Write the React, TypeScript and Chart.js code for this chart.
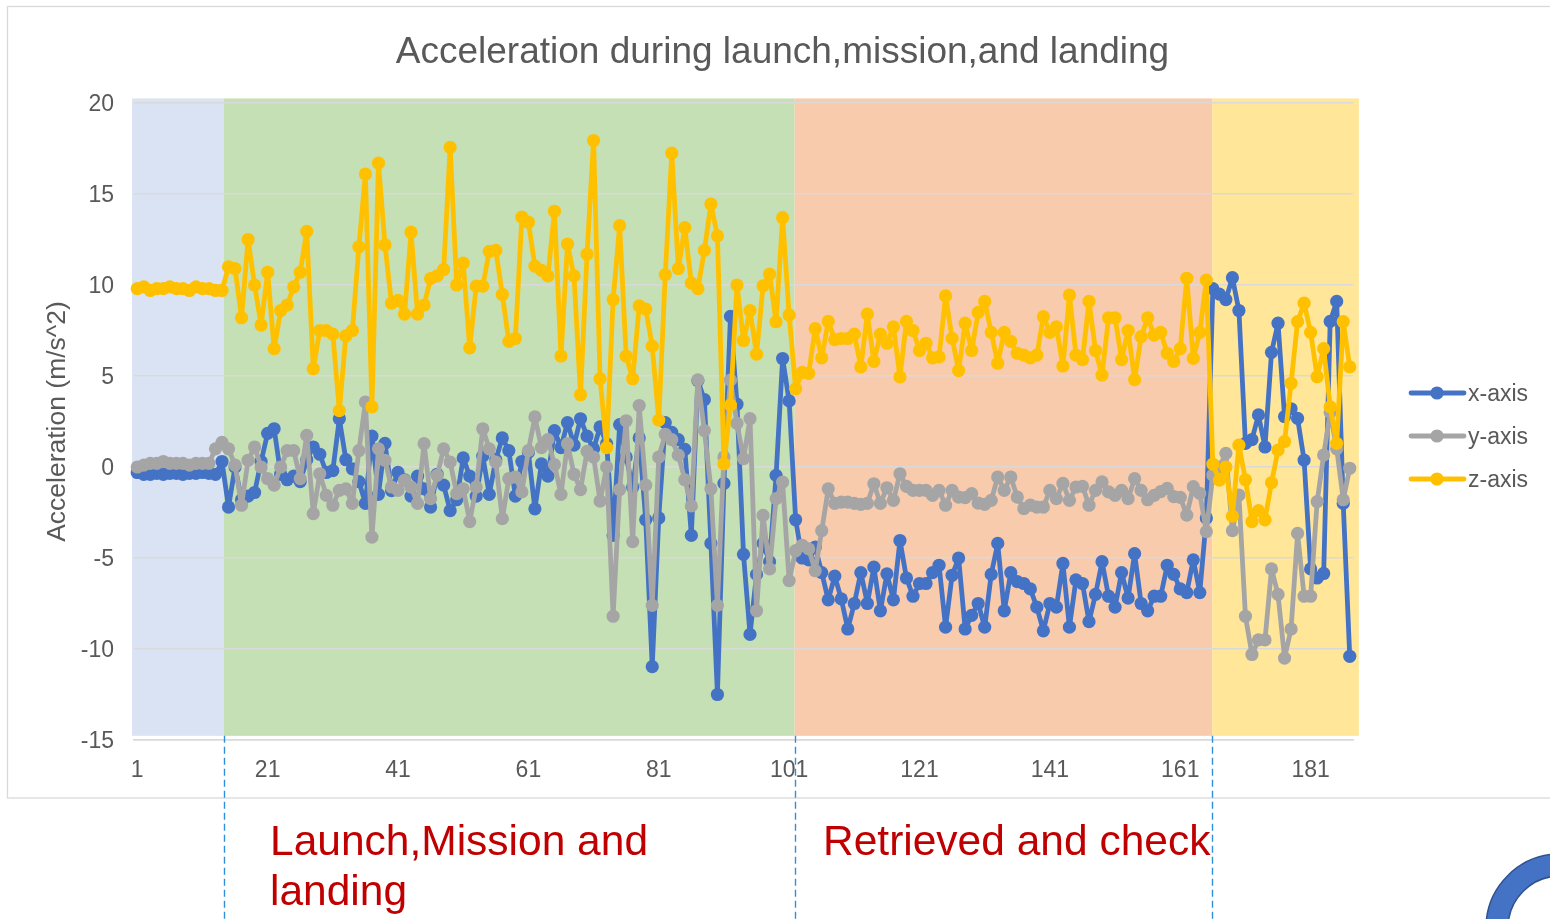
import React, { useEffect, useRef } from 'react';
import { Chart, registerables } from 'chart.js';

Chart.register(...registerables);

// ---------- data ----------
const sampleLabels: string[] = Array.from({ length: 187 }, (_, i) => String(i + 1));
const shownTickLabels = ['1', '21', '41', '61', '81', '101', '121', '141', '161', '181'];

const xAxisValues = [
  -0.3, -0.4, -0.4, -0.35, -0.4, -0.35, -0.35, -0.4, -0.35, -0.35, -0.3, -0.35, -0.4, 0.3,
  -2.2, 0.0, -1.8, -1.6, -1.4, 0.3, 1.85, 2.1, -0.4, -0.7, -0.5, -0.8, 0.4, 1.1, 0.7, -0.3,
  -0.2, 2.65, 0.4, -0.1, -0.8, -2.0, 1.7, -1.5, 1.3, -1.3, -0.3, -0.7, -1.6, -0.5, -1.2, -2.2, -0.4, -1.0, -2.4, -1.8, 0.5, -0.5, -1.6, 0.6, -1.5, 0.4, 1.6, 0.9, -1.6, 0.3, 0.8,
  -2.3, 0.17, -0.5, 2.0, 1.07, 2.44, 1.2, 2.65, 1.7, 1.0, 2.2, 1.28, -3.76, 2.33, 0.55, -1.1, 1.6, -2.9, -10.97, -2.8, 2.44, 1.9, 1.5, 0.97, -3.76, 4.75, 3.7, -4.2, -12.5, -0.9, 8.28,
  3.45, -4.8, -9.2, -5.9, -4.2, -5.2, -0.46, 5.96, 3.63, -2.9, -5.0, -5.1, -4.4, -5.8, -7.3, -6.0, -7.25, -8.9, -7.5, -5.8, -7.5, -5.5, -7.9, -5.87, -7.3, -4.04, -6.1,
  -7.1, -6.4, -6.4, -5.8, -5.4, -8.8, -5.95, -5.0, -8.9, -8.15, -7.5, -8.8, -5.9, -4.2, -7.9, -5.8, -6.3, -6.4, -6.7, -7.7, -9.0, -7.5, -7.7, -5.3, -8.8, -6.2, -6.4, -8.5, -7.0, -5.2, -7.1, -7.7, -5.8, -7.2, -4.76, -7.5, -7.9, -7.1,
  -7.1, -5.4, -5.9, -6.7, -6.9, -5.1, -6.9, -2.8,
  9.8, 9.5, 9.2, 10.4, 8.6, 1.3, 1.5, 2.86, 1.1, 6.3, 7.9, 2.77, 3.2, 2.67, 0.38, -5.6, -6.1, -5.85, 8.0, 9.1, -2.0, -10.4,
];

const yAxisValues = [
  0.0, 0.1, 0.2, 0.2, 0.3, 0.2, 0.2, 0.2, 0.1, 0.2, 0.2, 0.2, 1.0, 1.35,
  1.0, 0.1, -2.1, 0.37, 1.1, 0.0, -0.64, -1.0, 0.0, 0.9, 0.9, -0.64, 1.74, -2.56, -0.37, -1.56,
  -2.1, -1.28, -1.2, -2.0, 0.9, 3.57, -3.85, 1.0, 0.37, -1.1, -1.28, -0.73, -1.1, -2.0, 1.28, -1.74, -0.46, 1.0, 0.27, -1.46, -1.2, -3.0, -1.1, 2.1, 1.0, 0.27, -2.84, -0.64, -0.55, -1.37, 0.9, 2.75,
  1.07, 1.5, 0.13, -1.5, 1.28, -0.4, -1.24, 0.86, 0.55, -1.87, 0.0, -8.2, -1.24, 2.54, -4.1, 3.38, -1.0, -7.6, 0.55, 1.8, 1.5, 0.65, -0.7, -2.14, 4.79, 2.0, -1.2, -7.6, 0.55, 4.77, 2.4, 0.46,
  2.66, -7.9, -2.66, -5.6, -1.74, -0.83, -6.24, -4.6, -4.3, -4.5, -5.7, -3.5, -1.2, -2.0, -1.93, -1.93, -2.0, -2.05, -2.0, -0.92, -2.0, -1.14, -1.83, -0.37, -1.06,
  -1.28, -1.28, -1.28, -1.56, -1.28, -2.1, -1.28, -1.65, -1.68, -1.46, -1.98, -2.05, -1.83, -0.55, -1.28, -0.55, -1.65, -2.29, -2.1, -2.2, -2.2, -1.28, -1.74, -0.9, -1.83, -1.1, -1.06, -2.1, -1.28, -0.82, -1.37, -1.56, -1.28, -1.74, -0.64, -1.28, -1.8, -1.56,
  -1.35, -1.17, -1.63, -1.67, -2.64, -1.08, -1.45, -3.55,
  -0.44, 0.0, 0.75, -3.5, -1.54, -8.2, -10.3, -9.5, -9.5, -5.6, -7.0, -10.5, -8.9, -3.65, -7.1, -7.1, -1.9, 0.66, 3.0, 1.0, -1.8, -0.07,
];

const zAxisValues = [
  9.8, 9.9, 9.7, 9.8, 9.8, 9.9, 9.8, 9.8, 9.7, 9.9, 9.8, 9.8, 9.7, 9.7,
  11.0, 10.9, 8.2, 12.5, 10.0, 7.8, 10.7, 6.5, 8.6, 8.9, 9.9, 10.7, 12.95, 5.4, 7.5, 7.5,
  7.3, 3.1, 7.2, 7.5, 12.1, 16.1, 3.3, 16.7, 12.2, 9.0, 9.15, 8.4, 12.9, 8.4, 8.9, 10.35, 10.5, 10.85, 17.56, 10.0, 11.2, 6.55, 9.94, 9.94, 11.85, 11.9, 9.48, 6.9, 7.06, 13.73, 13.45, 11.04,
  10.8, 10.5, 14.05, 6.1, 12.25, 10.5, 3.97, 11.7, 17.94, 4.85, 1.07, 9.2, 13.26, 6.1, 4.85, 8.85, 8.68, 6.64, 2.58, 10.57, 17.25, 10.9, 13.15, 10.1, 9.8, 11.9, 14.45, 12.7, 0.17, 3.4, 10.0, 6.95,
  8.6, 6.2, 9.96, 10.6, 7.98, 13.7, 8.35, 4.3, 5.2, 5.14, 7.6, 6.0, 8.0, 7.0, 7.06, 7.06, 7.3, 5.5, 8.4, 5.8, 7.3, 6.8, 7.7, 4.95, 8.0,
  7.5, 6.4, 6.8, 6.0, 6.05, 9.4, 7.07, 5.3, 7.9, 6.4, 8.5, 9.1, 7.4, 5.7, 7.4, 6.9, 6.25, 6.15, 6.0, 6.15, 8.26, 7.4, 7.7, 5.55, 9.45, 6.15, 5.9, 9.1, 6.4, 5.05, 8.2, 8.2, 5.9, 7.5, 4.8, 7.16, 8.2, 7.25,
  7.4, 6.25, 5.8, 6.5, 10.37, 5.97, 7.4, 10.27,
  0.16, -0.72, 0.0, -2.7, 1.2, -0.7, -3.0, -2.4, -2.9, -0.86, 0.93, 1.4, 4.6, 7.99, 9.0, 7.4, 4.96, 6.5, 3.3, 1.3, 7.99, 5.5,
];

const seriesNames = ['x-axis', 'y-axis', 'z-axis'];
const seriesColors = ['#4472C4', '#A5A5A5', '#FFC000'];

// phases, in sample-index units (0-based category positions)
const phaseStarts = [-0.8, 13.3, 100.85, 164.9];
const phaseEnds = [13.3, 100.85, 164.9, 187.4];
const phaseColors = ['#DAE3F3', '#C5E0B4', '#F8CBAD', '#FFE699'];
const phaseBoundaries = [13.3, 100.85, 164.9];
const shadeTopValue = 20.25;
const shadeBottomValue = -14.77;

const FONT = '"Liberation Sans", Arial, Helvetica, sans-serif';
const TEXT = '#595959';

const decorPlugin = {
  id: 'decor',
  beforeDraw(chart: any) {
    const { ctx, scales } = chart;
    const x = scales.x;
    const y = scales.y;
    ctx.save();
    ctx.fillStyle = '#ffffff';
    ctx.fillRect(0, 0, chart.width, chart.height);
    ctx.strokeStyle = '#D9D9D9';
    ctx.lineWidth = 1.3;
    ctx.strokeRect(7.5, 6.5, 1600, 791.5);
    const top = y.getPixelForValue(shadeTopValue);
    const bot = y.getPixelForValue(shadeBottomValue);
    phaseStarts.forEach((s, k) => {
      const l = x.getPixelForValue(s);
      const r = x.getPixelForValue(phaseEnds[k]);
      ctx.fillStyle = phaseColors[k];
      ctx.fillRect(l, top, r - l, bot - top);
    });
    ctx.restore();
  },
  afterDraw(chart: any) {
    const { ctx, scales } = chart;
    const x = scales.x;
    const y = scales.y;
    ctx.save();
    // dashed phase boundaries
    const bot = y.getPixelForValue(shadeBottomValue);
    ctx.strokeStyle = '#2F8FDA';
    ctx.lineWidth = 1.4;
    ctx.setLineDash([7, 4]);
    phaseBoundaries.forEach((b) => {
      const px = Math.round(x.getPixelForValue(b)) + 0.5;
      ctx.beginPath();
      ctx.moveTo(px, bot);
      ctx.lineTo(px, chart.height);
      ctx.stroke();
    });
    ctx.setLineDash([]);
    // legend
    chart.data.datasets.forEach((ds: any, k: number) => {
      const cy = 393 + k * 43;
      ctx.strokeStyle = ds.borderColor;
      ctx.lineWidth = 4.8;
      ctx.lineCap = 'round';
      ctx.beginPath();
      ctx.moveTo(1411, cy);
      ctx.lineTo(1464, cy);
      ctx.stroke();
      ctx.fillStyle = ds.borderColor;
      ctx.beginPath();
      ctx.arc(1437, cy, 6.6, 0, Math.PI * 2);
      ctx.fill();
      ctx.fillStyle = TEXT;
      ctx.font = `23px ${FONT}`;
      ctx.textBaseline = 'alphabetic';
      ctx.textAlign = 'left';
      ctx.fillText(ds.label, 1468, cy + 7.5);
    });
    // decorative ring at the bottom right
    ctx.beginPath();
    ctx.arc(1560, 928, 63, 0, Math.PI * 2);
    ctx.lineWidth = 22;
    ctx.strokeStyle = '#4472C4';
    ctx.stroke();
    ctx.lineWidth = 1.5;
    ctx.strokeStyle = '#2F528F';
    ctx.beginPath();
    ctx.arc(1560, 928, 74, 0, Math.PI * 2);
    ctx.stroke();
    ctx.beginPath();
    ctx.arc(1560, 928, 52, 0, Math.PI * 2);
    ctx.stroke();
    ctx.restore();
  },
};

export default function App() {
  const canvasRef = useRef<HTMLCanvasElement | null>(null);

  useEffect(() => {
    if (!canvasRef.current) return;
    const seriesValues = [xAxisValues, yAxisValues, zAxisValues];
    const chart = new Chart(canvasRef.current, {
      type: 'line',
      data: {
        labels: sampleLabels,
        datasets: seriesValues.map((vals, k) => ({
          label: seriesNames[k],
          data: vals,
          borderColor: seriesColors[k],
          backgroundColor: seriesColors[k],
          pointBackgroundColor: seriesColors[k],
          pointBorderColor: seriesColors[k],
          borderWidth: 4.8,
          borderJoinStyle: 'round',
          borderCapStyle: 'round',
          pointRadius: 6.6,
          pointBorderWidth: 0,
          tension: 0,
          order: 3 - k,
        })),
      },
      options: {
        responsive: false,
        animation: false,
        devicePixelRatio: 1,
        events: [],
        layout: { padding: { left: 38, right: 23, top: 0, bottom: 0 } },
        plugins: {
          legend: { display: false },
          tooltip: { enabled: false },
          title: {
            display: true,
            text: 'Acceleration during launch,mission,and landing',
            color: TEXT,
            font: { family: FONT, size: 37, weight: 'normal' },
            padding: { top: 31, bottom: 27.6 },
          },
        },
        scales: {
          x: {
            type: 'category',
            offset: true,
            grid: { display: false },
            border: { display: true, color: '#D9D9D9', width: 1.6 },
            ticks: {
              autoSkip: false,
              maxRotation: 0,
              minRotation: 0,
              padding: 9,
              color: TEXT,
              font: { family: FONT, size: 23 },
              callback: (_v: any, idx: number) =>
                shownTickLabels.includes(sampleLabels[idx]) ? sampleLabels[idx] : '',
            },
            afterFit: (scale: any) => {
              scale.height = 179;
            },
          },
          y: {
            min: -15,
            max: 20,
            ticks: {
              stepSize: 5,
              padding: 20,
              labelOffset: 2,
              color: TEXT,
              font: { family: FONT, size: 23 },
            },
            grid: { color: '#D9D9D9', lineWidth: 1.5, drawTicks: false },
            border: { display: false },
            title: {
              display: true,
              text: 'Acceleration (m/s^2)',
              color: TEXT,
              font: { family: FONT, size: 26.5, weight: 'normal' },
              padding: { top: 4, bottom: 4 },
            },
            afterFit: (scale: any) => {
              scale.width = 96;
            },
          },
          legendSpace: {
            type: 'linear',
            position: 'right',
            display: true,
            min: 0,
            max: 1,
            grid: { display: false },
            border: { display: false },
            ticks: { display: false },
            afterFit: (scale: any) => {
              scale.width = 174;
            },
          },
        },
      } as any,
      plugins: [decorPlugin],
    });
    return () => chart.destroy();
  }, []);

  const noteStyle: React.CSSProperties = {
    position: 'absolute',
    top: 816,
    margin: 0,
    fontFamily: FONT,
    fontSize: 42.5,
    lineHeight: '50px',
    color: '#C00000',
    whiteSpace: 'nowrap',
  };

  return (
    <div
      style={{
        position: 'absolute',
        left: 0,
        top: 0,
        width: 1550,
        height: 919,
        overflow: 'hidden',
        background: '#ffffff',
      }}
    >
      <canvas
        ref={canvasRef}
        width={1550}
        height={919}
        style={{ position: 'absolute', left: 0, top: 0, width: 1550, height: 919 }}
      />
      <div style={{ ...noteStyle, left: 270 }}>
        Launch,Mission and
        <br />
        landing
      </div>
      <div style={{ ...noteStyle, left: 823 }}>Retrieved and check</div>
    </div>
  );
}
